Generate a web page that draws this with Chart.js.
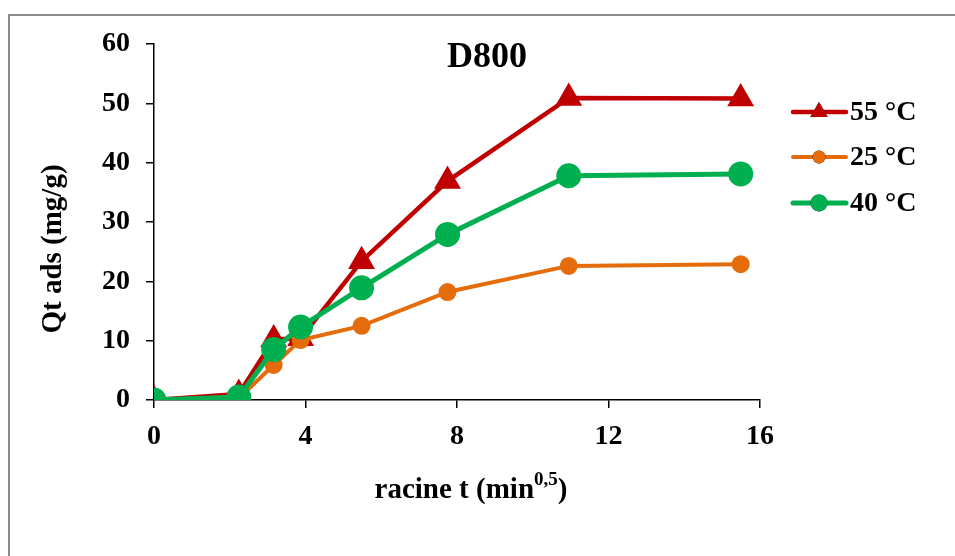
<!DOCTYPE html>
<html>
<head>
<meta charset="utf-8">
<script src="https://cdn.jsdelivr.net/npm/chart.js@4.4.0/dist/chart.umd.min.js"></script>
<style>
  html, body { margin: 0; padding: 0; background: #fff; }
  #wrap { position: relative; width: 955px; height: 556px; }
  #frame { position: absolute; left: 8px; top: 14px; right: 0; bottom: 0;
           border-top: 2px solid #8c8c8c; border-left: 2px solid #8c8c8c; pointer-events: none; }
  canvas { position: absolute; left: 0; top: 0; }
</style>
</head>
<body>
<div id="wrap">
  <canvas id="chartD800" width="955" height="556"></canvas>
  <div id="frame"></div>
</div>
<script>
// racine t (min^0,5)
const racineT = [0, 2.24, 3.16, 3.87, 5.48, 7.75, 10.95, 15.49];
// Qt ads (mg/g)
const qt55 = [0, 1.0, 10.2, 10.4, 23.4, 36.9, 50.9, 50.8];
const qt25 = [0, 0.3, 5.9, 10.1, 12.5, 18.2, 22.6, 22.9];
const qt40 = [0, 0.5, 8.5, 12.3, 18.9, 27.9, 37.8, 38.1];
const serieLabels = ['55 °C', '25 °C', '40 °C'];
const xTicks = [0, 4, 8, 12, 16];

const serif = "'Times New Roman', 'Liberation Serif', serif";
const warna = { merah: '#C00000', oranye: '#E46C0A', hijau: '#00B050' };

function toPoints(ys) {
  return racineT.map((x, i) => ({ x: x, y: ys[i] }));
}

// judul, judul sumbu dan legenda digambar sendiri
const hiasan = {
  id: 'hiasan',
  afterDraw(chart) {
    const ctx = chart.ctx;
    ctx.save();
    ctx.fillStyle = '#000';
    ctx.textBaseline = 'middle';

    // judul
    ctx.font = 'bold 36px ' + serif;
    ctx.textAlign = 'center';
    ctx.fillText('D800', 487, 58);

    // judul sumbu y
    ctx.save();
    ctx.translate(54, 249);
    ctx.rotate(-Math.PI / 2);
    ctx.font = 'bold 29px ' + serif;
    ctx.fillText('Qt ads (mg/g)', 0, 0);
    ctx.restore();

    // judul sumbu x dengan superskrip
    const bagian1 = 'racine t (min';
    const sup = '0,5';
    const bagian2 = ')';
    ctx.font = 'bold 29px ' + serif;
    const w1 = ctx.measureText(bagian1).width;
    const w3 = ctx.measureText(bagian2).width;
    ctx.font = 'bold 19px ' + serif;
    const w2 = ctx.measureText(sup).width;
    let x0 = 471 - (w1 + w2 + w3) / 2;
    ctx.textAlign = 'left';
    ctx.font = 'bold 29px ' + serif;
    ctx.fillText(bagian1, x0, 491);
    ctx.font = 'bold 19px ' + serif;
    ctx.fillText(sup, x0 + w1, 480);
    ctx.font = 'bold 29px ' + serif;
    ctx.fillText(bagian2, x0 + w1 + w2, 491);

    // legenda
    const rows = [112, 157, 203];
    chart.data.datasets.forEach((ds, i) => {
      const y = rows[i];
      ctx.strokeStyle = ds.borderColor;
      ctx.lineWidth = ds.borderWidth;
      ctx.lineCap = 'round';
      ctx.beginPath();
      ctx.moveTo(793, y);
      ctx.lineTo(846, y);
      ctx.stroke();
      Chart.helpers.drawPoint(ctx, {
        pointStyle: ds.pointStyle,
        radius: ds.legendRadius,
        borderWidth: 0
      }, 819, y);
      ctx.fillStyle = ds.pointBackgroundColor;
      ctx.fill();
      ctx.fillStyle = '#000';
      ctx.font = 'bold 28px ' + serif;
      ctx.fillText(ds.label, 850, y + 1);
    });
    ctx.restore();
  }
};

const ctxD800 = document.getElementById('chartD800').getContext('2d');
const chartD800 = new Chart(ctxD800, {
  type: 'line',
  data: {
    datasets: [
      {
        label: serieLabels[0],
        data: toPoints(qt55),
        borderColor: warna.merah,
        backgroundColor: warna.merah,
        pointBackgroundColor: warna.merah,
        pointBorderColor: warna.merah,
        pointStyle: 'triangle',
        pointRadius: 11,
        legendRadius: 10,
        borderWidth: 4.5,
        order: 2,
      },
      {
        label: serieLabels[1],
        data: toPoints(qt25),
        borderColor: warna.oranye,
        backgroundColor: warna.oranye,
        pointBackgroundColor: warna.oranye,
        pointBorderColor: warna.oranye,
        pointStyle: 'circle',
        pointRadius: 7,
        legendRadius: 6.5,
        borderWidth: 4,
        order: 1,
      },
      {
        label: serieLabels[2],
        data: toPoints(qt40),
        borderColor: warna.hijau,
        backgroundColor: warna.hijau,
        pointBackgroundColor: warna.hijau,
        pointBorderColor: warna.hijau,
        pointStyle: 'circle',
        pointRadius: 10,
        legendRadius: 8.5,
        borderWidth: 5,
        order: 0,
      },
    ],
  },
  options: {
    responsive: false,
    animation: false,
    layout: { padding: { left: 90, right: 195, top: 44, bottom: 86 } },
    plugins: {
      legend: { display: false },
      title: { display: false },
      tooltip: { enabled: false },
    },
    elements: {
      line: { tension: 0, fill: false },
      point: { borderWidth: 0, hoverRadius: 0 },
    },
    scales: {
      x: {
        type: 'linear',
        min: 0,
        max: 16,
        afterFit(scale) { scale.height = 70; },
        afterBuildTicks(scale) { scale.ticks = xTicks.map((v) => ({ value: v })); },
        ticks: {
          color: '#000',
          padding: 12,
          maxRotation: 0,
          font: { family: serif, size: 28, weight: 'bold' },
        },
        grid: { display: true, drawOnChartArea: false, drawTicks: true, tickLength: 8, color: '#000', lineWidth: 1.5 },
        border: { display: true, color: '#000', width: 1.5 },
      },
      y: {
        type: 'linear',
        min: 0,
        max: 60,
        afterFit(scale) { scale.width = 64; },
        ticks: {
          stepSize: 10,
          color: '#000',
          padding: 16,
          font: { family: serif, size: 28, weight: 'bold' },
        },
        grid: { display: true, drawOnChartArea: false, drawTicks: true, tickLength: 8, color: '#000', lineWidth: 1.5 },
        border: { display: true, color: '#000', width: 1.5 },
      },
    },
  },
  plugins: [hiasan],
});
</script>
</body>
</html>
